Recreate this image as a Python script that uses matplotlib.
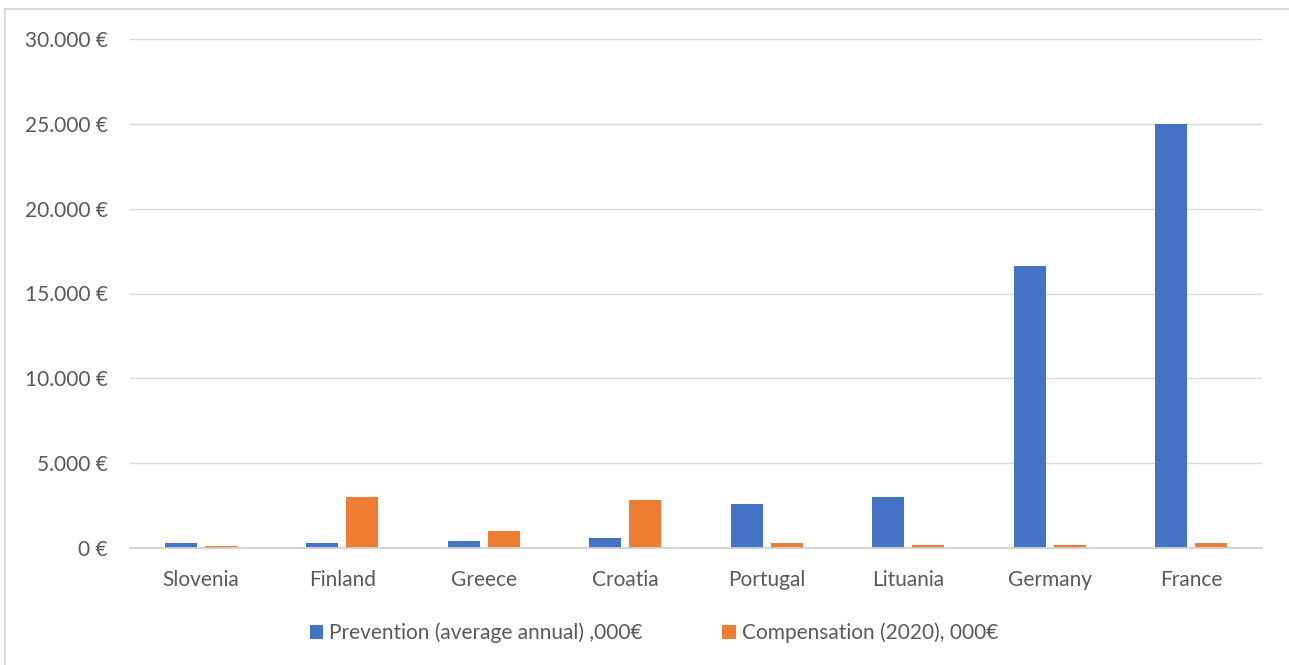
import matplotlib
matplotlib.use("Agg")
import matplotlib.pyplot as plt
from matplotlib.lines import Line2D
from matplotlib.ticker import FuncFormatter, MultipleLocator
import numpy as np

countries = ["Slovenia", "Finland", "Greece", "Croatia", "Portugal", "Lituania", "Germany", "France"]
prevention = [310, 310, 400, 600, 2600, 3000, 16600, 25000]
compensation = [120, 3000, 1000, 2800, 300, 200, 200, 300]
series_labels = ["Prevention (average annual) ,000€", "Compensation (2020), 000€"]

blue = "#4472C4"
orange = "#ED7D31"
text_color = "#595959"

plt.rcParams["font.family"] = ["Lato", "DejaVu Sans"]

W, H = 1289, 665
fig = plt.figure(figsize=(W / 100, H / 100), dpi=100)
ax = fig.add_axes([130 / W, 1 - 548 / H, (1262 - 130) / W, (548 - 39) / H])

x = np.arange(len(countries))
bw = 0.226
gap = 0.057
off = (bw + gap) / 2
ax.bar(x - off, prevention, width=bw, color=blue, label=series_labels[0], zorder=3)
ax.bar(x + off, compensation, width=bw, color=orange, label=series_labels[1], zorder=3)

ax.set_xlim(-0.5, len(countries) - 0.5)
ax.set_ylim(0, 30000)
ax.yaxis.set_major_locator(MultipleLocator(5000))


def euro(v, _):
    return f"{int(v):,} €".replace(",", ".")


ax.yaxis.set_major_formatter(FuncFormatter(euro))
ax.grid(axis="y", color="#D9D9D9", linewidth=1.0, zorder=0)
for s in ["top", "right", "left"]:
    ax.spines[s].set_visible(False)
ax.spines["bottom"].set_color("#D0D0D0")
ax.spines["bottom"].set_linewidth(1.3)
ax.spines["bottom"].set_zorder(4)
ax.tick_params(axis="both", length=0, labelsize=15, colors=text_color)
ax.tick_params(axis="y", pad=16)
ax.tick_params(axis="x", pad=16)
ax.set_xticks(x)
ax.set_xticklabels(countries)

leg = fig.legend(loc="center", bbox_to_anchor=(654 / W, 1 - 633 / H), ncol=2,
                 frameon=False, fontsize=15, handlelength=0.65, handleheight=0.65,
                 handletextpad=0.3, columnspacing=3.8)
for t in leg.get_texts():
    t.set_color(text_color)

# chart-area frame: only the left and top edges fall inside the image
frame_kw = dict(transform=fig.transFigure, color="#D9D9D9", linewidth=1.4)
fig.lines.append(Line2D([5 / W, 5 / W], [0, 1 - 9 / H], **frame_kw))
fig.lines.append(Line2D([5 / W, 1], [1 - 9 / H, 1 - 9 / H], **frame_kw))

fig.savefig("out.png", dpi=100)
